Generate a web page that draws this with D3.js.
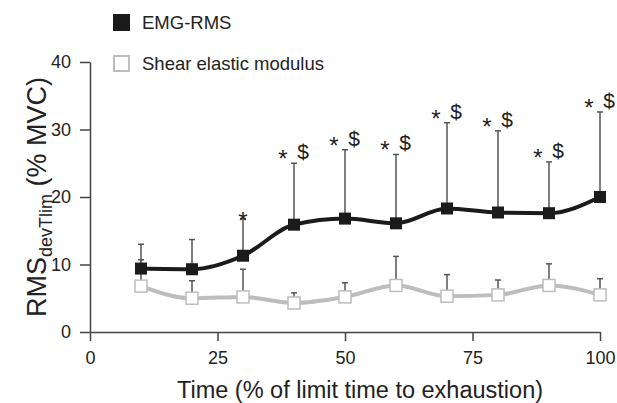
<!DOCTYPE html>
<html>
<head>
<meta charset="utf-8">
<script src="https://cdn.jsdelivr.net/npm/d3@7"></script>
<style>
  body { margin: 0; background: #fff; }
  text { font-family: 'Liberation Sans', Arial, sans-serif; fill: #222; }
</style>
</head>
<body>
<div id="chart"></div>
<script>
// data
var times = [10, 20, 30, 40, 50, 60, 70, 80, 90, 100];
var emgMean = [9.4, 9.3, 11.3, 15.9, 16.8, 16.1, 18.3, 17.7, 17.6, 20.0];
var emgUpper = [13.0, 13.7, 16.8, 25.0, 27.0, 26.3, 31.0, 29.8, 25.2, 32.6];
var shearMean = [6.8, 5.0, 5.2, 4.3, 5.2, 6.9, 5.3, 5.5, 6.9, 5.5];
var shearUpper = [10.7, 7.6, 9.3, 5.8, 7.3, 11.2, 8.5, 7.7, 10.1, 7.9];
var marks = ['', '', '*', '*$', '*$', '*$', '*$', '*$', '*$', '*$'];
var xTicks = [0, 25, 50, 75, 100];
var yTicks = [0, 10, 20, 30, 40];
var legendNames = ['EMG-RMS', 'Shear elastic modulus'];

var W = 617, H = 403;
var svg = d3.select('#chart').append('svg')
    .attr('width', W)
    .attr('height', H);

var x = d3.scaleLinear().domain([0, 100]).range([90, 600]);
var y = d3.scaleLinear().domain([0, 40]).range([332, 62]);

var axisColor = '#444';

// X-Axis
var gx = svg.append('g')
    .attr('transform', 'translate(0,' + y(0) + ')')
    .call(d3.axisBottom(x).tickValues(xTicks).tickSize(9).tickSizeOuter(0).tickPadding(10));
// Y-Axis
var gy = svg.append('g')
    .attr('transform', 'translate(' + x(0) + ',0)')
    .call(d3.axisLeft(y).tickValues(yTicks).tickSize(10).tickSizeOuter(0).tickPadding(9));

[gx, gy].forEach(function(g) {
    g.select('.domain').attr('stroke', axisColor).attr('stroke-width', 1.5);
    g.selectAll('.tick line').attr('stroke', axisColor).attr('stroke-width', 1.5);
    g.selectAll('.tick text')
        .attr('font-family', "'Liberation Sans', Arial, sans-serif")
        .attr('font-size', 18)
        .attr('fill', '#222');
});

// axis titles
svg.append('text')
    .attr('x', 360)
    .attr('y', 398)
    .attr('text-anchor', 'middle')
    .attr('font-size', 23.5)
    .text('Time (% of limit time to exhaustion)');

var yl = svg.append('text')
    .attr('transform', 'translate(46,' + 197 + ') rotate(-90)')
    .attr('text-anchor', 'middle')
    .attr('font-size', 27);
yl.append('tspan').text('RMS');
yl.append('tspan').attr('font-size', 18).attr('dy', 6).text('devTlim');
yl.append('tspan').attr('dy', -6).text(' (% MVC)');

// error bars (upper only)
function errorBars(mean, upper) {
    var g = svg.append('g').attr('stroke', '#555').attr('stroke-width', 1.5);
    times.forEach(function(t, i) {
        g.append('line')
            .attr('x1', x(t)).attr('x2', x(t))
            .attr('y1', y(mean[i])).attr('y2', y(upper[i]));
        g.append('line')
            .attr('x1', x(t) - 3).attr('x2', x(t) + 3)
            .attr('y1', y(upper[i])).attr('y2', y(upper[i]));
    });
}
errorBars(shearMean, shearUpper);
errorBars(emgMean, emgUpper);

var line = d3.line().curve(d3.curveMonotoneX);

svg.append('path')
    .attr('d', line(times.map(function(t, i) { return [x(t), y(shearMean[i])]; })))
    .attr('fill', 'none')
    .attr('stroke', '#bdbdbd')
    .attr('stroke-width', 4);

svg.append('path')
    .attr('d', line(times.map(function(t, i) { return [x(t), y(emgMean[i])]; })))
    .attr('fill', 'none')
    .attr('stroke', '#1b1b1b')
    .attr('stroke-width', 4);

var s = 12;
svg.selectAll('rect.shear')
    .data(times)
    .enter().append('rect')
    .attr('x', function(d) { return x(d) - s / 2; })
    .attr('y', function(d, i) { return y(shearMean[i]) - s / 2; })
    .attr('width', s).attr('height', s)
    .attr('fill', '#fff')
    .attr('stroke', '#bdbdbd')
    .attr('stroke-width', 1.5);

svg.selectAll('rect.emg')
    .data(times)
    .enter().append('rect')
    .attr('x', function(d) { return x(d) - s / 2; })
    .attr('y', function(d, i) { return y(emgMean[i]) - s / 2; })
    .attr('width', s).attr('height', s)
    .attr('fill', '#1b1b1b');

// significance marks
times.forEach(function(t, i) {
    var top = y(emgUpper[i]);
    if (marks[i] === '*') {
        svg.append('text')
            .attr('x', x(t)).attr('y', top + 10)
            .attr('text-anchor', 'middle')
            .attr('font-size', 24)
            .attr('fill', '#222')
            .text('*');
    } else if (marks[i] === '*$') {
        svg.append('text')
            .attr('x', x(t) - 11).attr('y', top + 4)
            .attr('text-anchor', 'middle')
            .attr('font-size', 24)
            .attr('fill', '#222')
            .text('*');
        svg.append('text')
            .attr('x', x(t) + 9).attr('y', top - 4)
            .attr('text-anchor', 'middle')
            .attr('font-size', 21)
            .attr('fill', '#222')
            .style('text-rendering', 'geometricPrecision')
            .text('$');
    }
});

// Legend
var legend = svg.append('g')
    .selectAll('g')
    .data(legendNames)
    .enter().append('g')
    .attr('transform', function(d, i) { return 'translate(113,' + (14 + i * 41) + ')'; });

legend.append('rect')
    .attr('x', function(d, i) { return i ? 1 : 0; })
    .attr('y', function(d, i) { return i ? 1 : 0; })
    .attr('width', function(d, i) { return i ? 15 : 17; })
    .attr('height', function(d, i) { return i ? 15 : 17; })
    .attr('fill', function(d, i) { return i ? '#fff' : '#1b1b1b'; })
    .attr('stroke', function(d, i) { return i ? '#bdbdbd' : 'none'; })
    .attr('stroke-width', 2);

legend.append('text')
    .attr('x', 29)
    .attr('y', 15)
    .attr('font-size', 18.5)
    .text(function(d) { return d; });
</script>
</body>
</html>
